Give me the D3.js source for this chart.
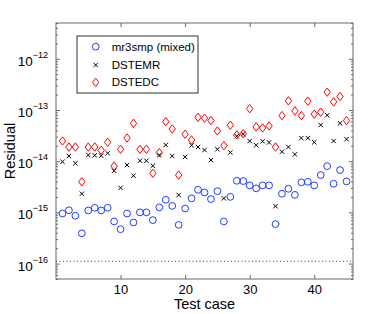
<!DOCTYPE html>
<html>
<head>
<meta charset="utf-8">
<script src="https://cdn.jsdelivr.net/npm/d3@7"></script>
<style>
  body { margin: 0; background: #fff; }
  text { font-family: "Liberation Sans", Arial, Helvetica, sans-serif; }
</style>
</head>
<body>
<div id="chart"></div>
<script>
// values, one per test case (1..45)
const testCases = d3.range(1, 46);
const mr3smp = [9.5e-16, 1.1e-15, 8.6e-16, 3.9e-16, 1.09e-15, 1.23e-15, 1.09e-15, 1.23e-15, 6.65e-16, 4.7e-16,
    9.5e-16, 6.35e-16, 1.0e-15, 1.0e-15, 7.05e-16, 1.25e-15, 1.76e-15, 1.34e-15, 5.7e-16, 1.19e-15,
    1.88e-15, 2.76e-15, 2.45e-15, 1.82e-15, 2.6e-15, 6.65e-16, 2.01e-15, 4.14e-15, 4.09e-15, 3.37e-15,
    2.94e-15, 3.37e-15, 3.37e-15, 5.9e-16, 2.31e-15, 2.89e-15, 2.2e-15, 3.86e-15, 3.96e-15, 3.37e-15,
    5.36e-15, 8.0e-15, 3.62e-15, 6.7e-15, 4.03e-15];
const dstemr = [9.75e-15, 1.26e-14, 9.1e-15, 2.31e-15, 1.32e-14, 1.30e-14, 1.28e-14, 1.43e-14, 6.5e-15, 3.02e-15,
    8.4e-15, 5.2e-15, 1.02e-14, 1.02e-14, 8.15e-15, 1.32e-14, 2.07e-14, 1.26e-14, 2.18e-15, 1.21e-14,
    2.04e-14, 1.89e-14, 1.65e-14, 1.05e-14, 1.71e-14, 1.88e-15, 1.48e-14, 3.07e-14, 3.37e-14, 2.48e-14,
    2.05e-14, 2.45e-14, 2.32e-14, 1.32e-15, 1.53e-14, 1.89e-14, 1.36e-14, 2.82e-14, 2.82e-14, 2.34e-14,
    5.1e-14, 7.9e-14, 2.48e-14, 5.5e-14, 2.69e-14];
const dstedc = [2.48e-14, 1.89e-14, 1.89e-14, 3.96e-15, 1.89e-14, 1.89e-14, 1.63e-14, 2.34e-14, 8.0e-15, 1.71e-14,
    2.84e-14, 5.5e-14, 1.71e-14, 1.71e-14, 5.8e-15, 1.47e-14, 5.9e-14, 4.26e-14, 5.36e-15, 3.36e-14,
    2.6e-14, 7.2e-14, 6.9e-14, 6.2e-14, 3.9e-14, 2.01e-14, 5.04e-14, 3.25e-14, 3.45e-14, 1.06e-13,
    4.67e-14, 4.46e-14, 4.88e-14, 1.89e-14, 7.76e-14, 1.51e-13, 9.6e-14, 7.76e-14, 1.49e-13, 8.3e-14,
    9.05e-14, 2.23e-13, 1.44e-13, 1.83e-13, 6.2e-14];
const epsLine = 1.11e-16;           // dotted reference line
const xTicks = [10, 20, 30, 40];
const yMajor = [1e-16, 1e-15, 1e-14, 1e-13, 1e-12];
const yExps = ["−16", "−15", "−14", "−13", "−12"];
const legendNames = ["mr3smp (mixed)", "DSTEMR", "DSTEDC"];

const width = 390, height = 314;
const margin = {top: 23, right: 37, bottom: 35, left: 56};
const w = width - margin.left - margin.right;
const h = height - margin.top - margin.bottom;
const frameColor = "#666";

let svg = d3.select("#chart")
    .append("svg")
    .attr("width", width)
    .attr("height", height)
    .append("g")
    .attr("transform", `translate(${margin.left}, ${margin.top})`);

let x = d3.scaleLinear().domain([0, 46]).range([0, w]);
let y = d3.scaleLog().domain([5e-17, 5e-12]).range([h, 0]);

// frame
svg.append("rect")
    .attr("width", w).attr("height", h)
    .attr("fill", "none").attr("stroke", frameColor).attr("stroke-width", 1);

// x axes (bottom with labels, top mirrored), ticks inward
let xb = svg.append("g")
    .attr("transform", `translate(0, ${h})`)
    .call(d3.axisBottom(x).tickValues(xTicks).tickSize(-4).tickPadding(6).tickFormat(d3.format("d")));
svg.append("g")
    .call(d3.axisTop(x).tickValues(xTicks).tickSize(-4).tickFormat(""));

// y axes: major + minor ticks, both sides
let minor = y.ticks().filter(d => !yMajor.some(m => Math.abs(m - d) / m < 1e-6));
svg.append("g").call(d3.axisLeft(y).tickValues(yMajor).tickSize(-4).tickFormat(""));
svg.append("g").call(d3.axisLeft(y).tickValues(minor).tickSize(-2).tickFormat(""));
svg.append("g").attr("transform", `translate(${w}, 0)`)
    .call(d3.axisRight(y).tickValues(yMajor).tickSize(-4).tickFormat(""));
svg.append("g").attr("transform", `translate(${w}, 0)`)
    .call(d3.axisRight(y).tickValues(minor).tickSize(-2).tickFormat(""));

svg.selectAll(".domain").remove();
svg.selectAll(".tick line").attr("stroke", frameColor);
xb.selectAll("text").style("font-size", "13px").attr("fill", "#000")
    .style("font-family", "'Liberation Sans', Arial, sans-serif");

// y tick labels 10^k
let yl = svg.append("g").selectAll("text").data(yMajor).enter()
    .append("text")
    .attr("x", -8)
    .attr("y", d => y(d) + 7)
    .attr("text-anchor", "end")
    .style("font-size", "13.5px");
yl.append("tspan").text("10");
yl.append("tspan").attr("dy", -8).style("font-size", "9px").text((d, i) => yExps[i]);

// dotted line
svg.append("line")
    .attr("x1", 0).attr("x2", w)
    .attr("y1", y(epsLine)).attr("y2", y(epsLine))
    .attr("stroke", "#333").attr("stroke-width", 1).attr("stroke-dasharray", "1,2.5");

// markers
function cross(g, cx, cy, s) {
    g.append("path")
        .attr("d", `M${cx - s},${cy - s}L${cx + s},${cy + s}M${cx - s},${cy + s}L${cx + s},${cy - s}`)
        .attr("stroke", "#000").attr("stroke-width", 1).attr("fill", "none");
}
function diamond(g, cx, cy) {
    g.append("path")
        .attr("d", `M${cx},${cy - 4.2}L${cx + 3.2},${cy}L${cx},${cy + 4.2}L${cx - 3.2},${cy}Z`)
        .attr("stroke", "#ff0000").attr("stroke-width", 1).attr("fill", "none");
}

svg.append("g").selectAll("circle").data(testCases).enter()
    .append("circle")
    .attr("cx", d => x(d))
    .attr("cy", (d, i) => y(mr3smp[i]))
    .attr("r", 3.4)
    .attr("fill", "none").attr("stroke", "#1f3dff").attr("stroke-width", 1);

let gx = svg.append("g");
testCases.forEach((d, i) => cross(gx, x(d), y(dstemr[i]), 2.2));

let gd = svg.append("g");
testCases.forEach((d, i) => diamond(gd, x(d), y(dstedc[i])));

// legend
let lg = svg.append("g").attr("transform", `translate(${77 - margin.left}, ${36 - margin.top})`);
lg.append("rect").attr("width", 121).attr("height", 57)
    .attr("fill", "#fff").attr("stroke", "#333").attr("stroke-width", 1);
let rowY = [10.7, 29, 46.3];
lg.append("circle").attr("cx", 18.7).attr("cy", rowY[0]).attr("r", 3.4)
    .attr("fill", "none").attr("stroke", "#1f3dff");
cross(lg, 18.7, rowY[1], 2.2);
diamond(lg, 18.7, rowY[2]);
lg.selectAll("text.lab").data(legendNames).enter()
    .append("text")
    .attr("x", 34.7)
    .attr("y", (d, i) => rowY[i] + 4)
    .style("font-size", "11.5px")
    .text(d => d);

// axis titles
svg.append("text")
    .attr("x", w / 2).attr("y", h + 30)
    .attr("text-anchor", "middle")
    .style("font-size", "14.5px")
    .text("Test case");
svg.append("text")
    .attr("transform", `translate(${-41}, ${h / 2}) rotate(-90)`)
    .attr("text-anchor", "middle")
    .style("font-size", "14.5px")
    .text("Residual");
</script>
</body>
</html>
